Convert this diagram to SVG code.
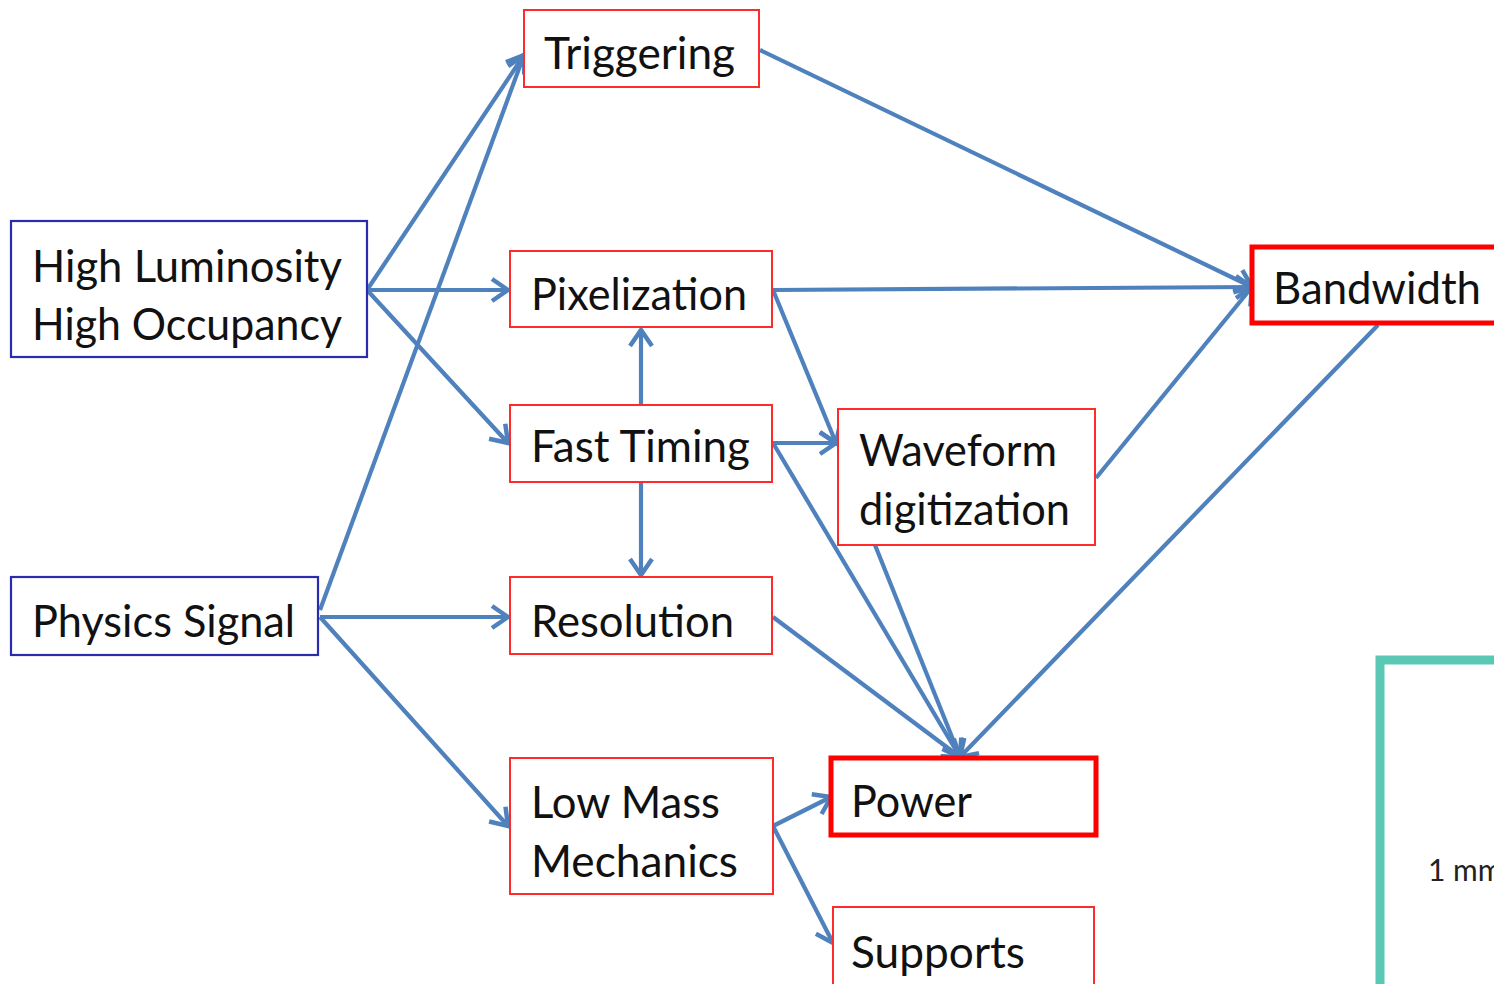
<svg xmlns="http://www.w3.org/2000/svg" width="1494" height="984" viewBox="0 0 1494 984">
<style>
.bx{fill:#fff;stroke:#ff2a2a;stroke-width:2}
.bb{fill:#fff;stroke:#2b2bb0;stroke-width:2.2}
.bt{fill:#fff;stroke:#ff0000;stroke-width:5}
.t{font-family:Lato,"Open Sans",sans-serif;font-size:44px;fill:#111}
.c line{stroke:#4f81bd;stroke-width:4.2;marker-end:url(#a)}
</style>
<defs>
<marker id="a" viewBox="-20 -14 24 28" markerWidth="24" markerHeight="28" refX="0" refY="0" orient="auto" markerUnits="userSpaceOnUse">
<path d="M-16,-11 L0,0 L-16,11" fill="none" stroke="#4f81bd" stroke-width="4.5"/>
</marker>
</defs>
<rect width="1494" height="984" fill="#fff"/>
<g id="scale">
<rect x="1380" y="660" width="200" height="400" fill="#fff" stroke="#5bc8b6" stroke-width="9"/>
<text x="1428" y="881" font-family="Lato,'Open Sans',sans-serif" font-size="30" fill="#222">1 mm</text>
</g>
<g class="c" id="connectors">
<line x1="367" y1="290" x2="524" y2="55"/>
<line x1="320" y1="610" x2="524" y2="55"/>
<line x1="367" y1="290" x2="508" y2="290"/>
<line x1="367" y1="290" x2="508" y2="443"/>
<line x1="320" y1="617" x2="508" y2="617"/>
<line x1="320" y1="617" x2="508" y2="826"/>
<line x1="760" y1="50" x2="1252" y2="287"/>
<line x1="773" y1="290" x2="1252" y2="287"/>
<line x1="773" y1="290" x2="836" y2="443"/>
<line x1="773" y1="443" x2="836" y2="443"/>
<line x1="773" y1="443" x2="960" y2="757"/>
<line x1="641" y1="405" x2="641" y2="330"/>
<line x1="641" y1="482" x2="641" y2="575"/>
<line x1="875" y1="545" x2="960" y2="757"/>
<line x1="1096" y1="478" x2="1252" y2="287"/>
<line x1="1378" y1="325" x2="960" y2="757"/>
<line x1="773" y1="617" x2="960" y2="757"/>
<line x1="773" y1="826" x2="831" y2="797"/>
<line x1="773" y1="826" x2="833" y2="943"/>
</g>
<g id="hl"><rect class="bb" x="11" y="221" width="356" height="136"/>
<text class="t" x="32" y="282" textLength="310" lengthAdjust="spacingAndGlyphs">High Luminosity</text>
<text class="t" x="32" y="340" textLength="310" lengthAdjust="spacingAndGlyphs">High Occupancy</text></g>
<g id="ps"><rect class="bb" x="11" y="577" width="307" height="78"/>
<text class="t" x="32" y="637" textLength="263" lengthAdjust="spacingAndGlyphs">Physics Signal</text></g>
<g id="trig"><rect class="bx" x="524" y="10" width="235" height="77"/>
<text class="t" x="544" y="69" textLength="191" lengthAdjust="spacingAndGlyphs">Triggering</text></g>
<g id="pix"><rect class="bx" x="510" y="251" width="262" height="76"/>
<text class="t" x="531" y="310" textLength="216" lengthAdjust="spacingAndGlyphs">Pixelization</text></g>
<g id="ft"><rect class="bx" x="510" y="405" width="262" height="77"/>
<text class="t" x="531" y="462" textLength="219" lengthAdjust="spacingAndGlyphs">Fast Timing</text></g>
<g id="res"><rect class="bx" x="510" y="577" width="262" height="77"/>
<text class="t" x="531" y="637" textLength="203" lengthAdjust="spacingAndGlyphs">Resolution</text></g>
<g id="lm"><rect class="bx" x="510" y="758" width="263" height="136"/>
<text class="t" x="531" y="818" textLength="189" lengthAdjust="spacingAndGlyphs">Low Mass</text>
<text class="t" x="531" y="877" textLength="207" lengthAdjust="spacingAndGlyphs">Mechanics</text></g>
<g id="wf"><rect class="bx" x="838" y="409" width="257" height="136"/>
<text class="t" x="859" y="466" textLength="198" lengthAdjust="spacingAndGlyphs">Waveform</text>
<text class="t" x="859" y="525" textLength="211" lengthAdjust="spacingAndGlyphs">digitization</text></g>
<g id="pow"><rect class="bt" x="831" y="758" width="265" height="77"/>
<text class="t" x="851" y="817" textLength="121" lengthAdjust="spacingAndGlyphs">Power</text></g>
<g id="sup"><rect class="bx" x="833" y="907" width="261" height="100"/>
<text class="t" x="851" y="968" textLength="174" lengthAdjust="spacingAndGlyphs">Supports</text></g>
<g id="bw"><rect class="bt" x="1252" y="247" width="260" height="76"/>
<text class="t" x="1273" y="304" textLength="208" lengthAdjust="spacingAndGlyphs">Bandwidth</text></g>
</svg>
